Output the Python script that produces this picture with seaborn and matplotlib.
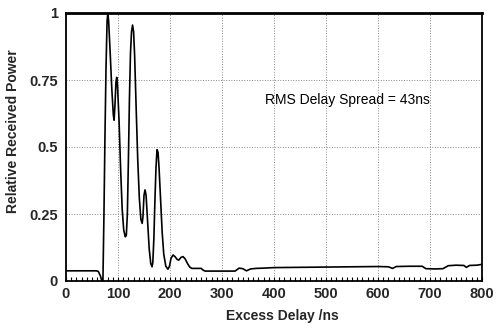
import matplotlib
matplotlib.use("Agg")
import matplotlib.pyplot as plt
import seaborn as sns
import pandas as pd
from matplotlib.ticker import MultipleLocator

delay_ns = [0, 10, 20, 30, 40, 50, 58, 62, 66, 69, 71, 73, 75, 77, 79, 80.5, 82, 85, 88, 91,
            92.5, 94, 96, 97.5, 99, 102, 105, 108, 111, 114, 116, 118, 120, 122, 124, 126,
            128, 130, 132, 135, 138, 141, 144, 146.5, 148, 150, 152, 154, 157, 160, 163,
            165.5, 167, 169, 171, 173, 175, 177, 179, 182, 185, 188, 192, 196, 199, 202,
            206, 210, 214, 217, 221, 225, 229, 234, 238, 242, 250, 260, 264, 268, 290,
            310, 325, 333, 340, 347, 355, 365, 380, 400, 450, 500, 550, 600, 620, 628,
            635, 660, 685, 692, 710, 725, 735, 750, 765, 770, 776, 790, 800]
power = [0.038, 0.038, 0.038, 0.038, 0.038, 0.038, 0.038, 0.036, 0.02, 0.0, 0.0, 0.25,
         0.55, 0.8, 0.97, 1.0, 0.97, 0.85, 0.72, 0.62, 0.60, 0.65, 0.74, 0.76, 0.73, 0.6,
         0.42, 0.27, 0.19, 0.165, 0.17, 0.25, 0.45, 0.68, 0.85, 0.93, 0.955, 0.93, 0.84,
         0.64, 0.45, 0.31, 0.23, 0.215, 0.24, 0.32, 0.34, 0.32, 0.22, 0.12, 0.065, 0.053,
         0.07, 0.16, 0.3, 0.42, 0.49, 0.48, 0.42, 0.3, 0.18, 0.1, 0.055, 0.044, 0.055,
         0.085, 0.097, 0.09, 0.08, 0.078, 0.088, 0.091, 0.083, 0.064, 0.052, 0.047, 0.047,
         0.047, 0.04, 0.037, 0.037, 0.037, 0.037, 0.048, 0.046, 0.038, 0.045, 0.047, 0.048,
         0.05, 0.051, 0.052, 0.053, 0.054, 0.053, 0.047, 0.054, 0.055, 0.055, 0.046, 0.045,
         0.046, 0.057, 0.059, 0.058, 0.051, 0.058, 0.059, 0.062]
x_ticks = [0, 100, 200, 300, 400, 500, 600, 700, 800]
y_ticks = [0, 0.25, 0.5, 0.75, 1]
y_tick_labels = ["0", "0.25", "0.5", "0.75", "1"]
annotation = "RMS Delay Spread = 43ns"

sns.set_theme(style="white")
plt.rcParams["font.family"] = ["Liberation Sans", "DejaVu Sans"]

df = pd.DataFrame({"delay": delay_ns, "power": power})

fig = plt.figure(figsize=(4.97, 3.35), dpi=100)
ax = fig.add_axes([66 / 497, 1 - 281 / 335, (482 - 66) / 497, (281 - 13) / 335])

sns.lineplot(data=df, x="delay", y="power", ax=ax, color="black", linewidth=1.2)

ax.set_xlim(0, 800)
ax.set_ylim(0, 1)
ax.set_xticks(x_ticks)
ax.set_xticklabels([str(t) for t in x_ticks], fontsize=10.5, fontweight="bold")
ax.set_yticks(y_ticks)
ax.set_yticklabels(y_tick_labels, fontsize=10.5, fontweight="bold")
ax.xaxis.set_minor_locator(MultipleLocator(10))
ax.tick_params(axis="x", which="both", direction="in", length=3, width=0.8,
               color="black", bottom=True, top=False, pad=4)
ax.tick_params(axis="y", which="both", length=0, pad=6)

ax.grid(True, which="major", linestyle=":", color="#888888", linewidth=0.7)
for side, sp in ax.spines.items():
    sp.set_visible(True)
    sp.set_color("black")
    sp.set_linewidth(1.3)
ax.spines["top"].set_linewidth(2.0)

ax.set_xlabel("Excess Delay /ns", fontsize=10, fontweight="bold")
ax.xaxis.set_label_coords((282 - 66) / 416, -(309 - 281) / 268)
ax.set_ylabel("Relative Received Power", fontsize=10, fontweight="bold")
ax.yaxis.set_label_coords(-(66 - 20) / 416, (281 - 131) / 268)

ax.text(383, 0.675, annotation, fontsize=10, va="center", ha="left", color="black")

fig.savefig("out.png", dpi=100)
